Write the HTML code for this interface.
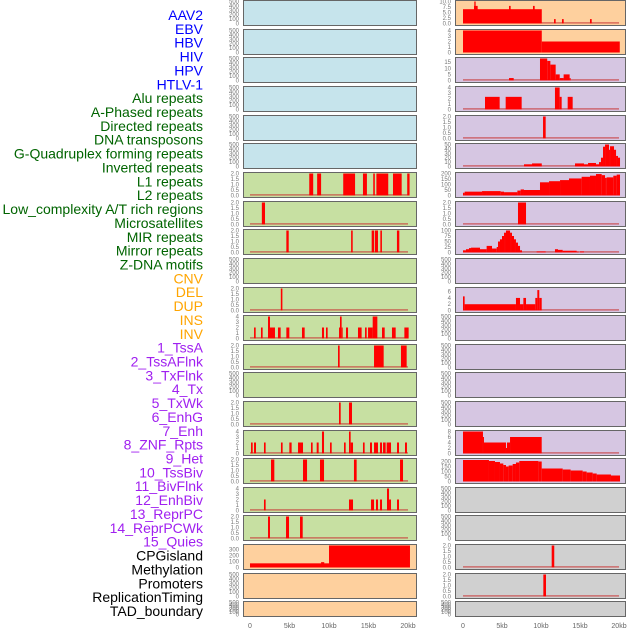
<!DOCTYPE html>
<html><head><meta charset="utf-8">
<style>
html,body{margin:0;padding:0;background:#fff;width:630px;height:630px;overflow:hidden}
svg{display:block;font-family:"Liberation Sans",sans-serif}
</style></head>
<body>
<svg id="chart" width="630" height="630" viewBox="0 0 630 630" xmlns="http://www.w3.org/2000/svg">
<g id="labels"></g>
<g id="panels"></g>
<g id="xaxes"></g>
</svg>
<script>
// ---------- data ----------
const trackLabels = ["AAV2","EBV","HBV","HIV","HPV","HTLV-1","Alu repeats","A-Phased repeats","Directed repeats","DNA transposons","G-Quadruplex forming repeats","Inverted repeats","L1 repeats","L2 repeats","Low_complexity A/T rich regions","Microsatellites","MIR repeats","Mirror repeats","Z-DNA motifs","CNV","DEL","DUP","INS","INV","1_TssA","2_TssAFlnk","3_TxFlnk","4_Tx","5_TxWk","6_EnhG","7_Enh","8_ZNF_Rpts","9_Het","10_TssBiv","11_BivFlnk","12_EnhBiv","13_ReprPC","14_ReprPCWk","15_Quies","CPGisland","Methylation","Promoters","ReplicationTiming","TAD_boundary"];
const labelGroups = [6,13,5,15,5];
const xTickLabels = ["0","5kb","10kb","15kb","20kb"];
const xTickValues = [0,5,10,15,20];

const E=[], T500=[0,100,200,300,400,500], T2=[0,0.5,1,1.5,2], T4=[0,1,2,3,4];
const leftYMax = [500,500,500,500,500,500,2,2,2,500,2,4,2,500,2,4,2,4,2,370,500,500];
const leftTicks = [T500,T500,T500,T500,T500,T500,T2,T2,T2,T500,T2,T4,T2,T500,T2,T4,T2,T4,T2,[0,100,200,300],T500,T500];
const leftSeries = [
 E,E,E,E,E,E,
 [[7.5,8.0,2],[8.5,9.0,2],[11.8,13.3,2],[14.3,14.8,2],[15.6,15.8,2],[16.0,17.5,2],[18.1,19.2,2],[19.9,20.2,2]],
 [[1.5,1.9,2]],
 [[4.6,4.9,2],[12.8,13.0,2],[15.4,15.7,2],[15.8,16.2,2],[16.5,16.7,2],[18.6,18.9,2]],
 E,
 [[3.9,4.1,2]],
 [[0.51,0.72,2],[1.39,1.6,2],[2.28,2.53,4],[2.53,3.16,2],[3.54,3.88,2],[4.6,4.98,2],[6.58,6.92,2],[9.11,9.37,2],[9.62,9.83,2],[11.27,11.39,2],[11.39,11.6,4],[11.6,11.73,2],[12.15,12.41,2],[13.67,14.13,2],[14.56,14.77,2],[14.94,15.53,2],[15.53,16.12,4],[16.71,17.05,2],[17.97,18.44,2],[19.54,20.08,2]],
 [[11.14,11.35,2],[15.7,16.92,2],[19.11,19.83,2]],
 E,
 [[11.27,11.48,2],[12.53,12.91,2]],
 [[0.13,0.34,2],[0.51,0.76,2],[1.77,1.98,2],[3.92,4.13,2],[4.98,5.27,2],[6.08,6.33,2],[6.33,6.71,2],[7.72,7.93,2],[8.44,8.69,2],[9.11,9.37,4],[10.13,10.34,2],[11.9,12.11,2],[12.53,12.74,4],[12.74,13.04,2],[14.3,14.51,2],[15.19,15.44,2],[15.7,16.2,2],[16.46,16.71,2],[16.84,17.17,2],[17.3,17.85,2],[18.61,18.86,2],[19.62,19.87,2]],
 [[2.66,3.08,2],[6.71,7.22,2],[8.86,9.37,2],[13.16,13.5,2],[18.99,19.37,2]],
 [[1.77,1.98,2],[12.53,13.04,2],[15.32,15.7,2],[15.95,16.2,2],[16.46,16.71,2],[17.34,17.6,4],[17.6,17.85,2],[18.61,18.86,2]],
 [[2.28,2.53,2],[4.56,4.94,2],[6.33,6.67,2]],
 [[0,10,70],[9.0,9.4,90],[10,20.25,370]],
 E,E
];
const leftBaseline = [0,0,0,0,0,0,1,1,1,0,1,1,1,0,1,1,1,1,1,0,0,0];

const rightYMax = [10,4,18,4,2,50,200,2,100,500,7,500,500,500,500,8,220,500,500,2,2,500];
const rightTicks = [[0,2.5,5,7.5,10],T4,[0,5,10,15],T4,T2,[0,10,20,30,40,50],[0,50,100,150,200],T2,[0,25,50,75,100],T500,[0,2,4,6],T500,T500,T500,T500,[0,2,4,6,8],[0,50,100,150,200],T500,T500,T2,T2,T500];
const rightSeries = [
 [[0,10.1,6.5],[1.41,1.88,8],[1.45,1.62,10],[5.9,6.11,8],[8.97,9.19,8],[11.67,11.88,2],[12.69,12.91,2],[16.28,16.5,2]],
 [[0,10.1,4],[10.1,20.1,2]],
 [[5.9,6.5,2],[9.87,10.8,18],[10.8,11.2,16],[11.2,11.88,13],[11.88,12.4,5],[12.4,12.9,2],[12.9,13.67,5],[13.67,13.8,2]],
 [[2.82,4.7,2.3],[5.47,7.52,2.3],[11.79,12.39,4],[12.39,12.65,2.3],[13.42,14.06,2.3]],
 [[10.26,10.6,2]],
 [[7.82,8.85,5],[8.85,10.1,7],[14.36,15.51,7],[15.51,16.03,5],[16.03,17.05,8],[17.05,17.44,5],[17.44,17.69,10],[17.69,17.95,20],[17.95,18.21,45],[18.21,18.72,50],[18.72,18.85,38],[18.85,19.36,46],[19.36,19.62,38],[19.62,19.87,24],[19.87,20.13,20]],
 [[0,0.21,25],[0.21,2.44,35],[2.44,2.95,40],[2.95,4.83,40],[4.83,5.26,35],[5.26,6.97,30],[6.97,7.39,45],[7.39,7.82,55],[7.82,9.87,50],[9.87,11.03,120],[11.03,12.44,130],[12.44,13.59,140],[13.59,15.21,155],[15.21,16.28,170],[16.28,17.05,180],[17.05,17.78,195],[17.78,18.21,185],[18.21,18.42,160],[18.42,19.27,165],[19.27,19.7,180],[19.7,20.13,190]],
 [[7.05,8.08,2]],
 [[0,0.38,10],[0.38,0.77,15],[0.77,1.03,20],[1.03,2.18,22],[2.18,3.03,15],[3.03,3.72,30],[3.72,4.32,18],[4.32,4.49,25],[4.49,4.74,50],[4.74,5.0,60],[5.0,5.26,75],[5.26,5.51,90],[5.51,6.03,100],[6.03,6.28,90],[6.28,6.54,75],[6.54,6.79,60],[6.79,7.05,45],[7.05,7.31,30],[7.31,7.56,10],[9.44,10.6,5],[11.79,12.18,15],[12.18,12.78,12],[12.78,14.57,8],[14.57,14.83,4],[15.0,15.51,5]],
 E,
 [[0,0.21,4.5],[0.21,6.79,2],[6.79,7.31,4],[7.31,7.74,2],[7.74,8.08,4],[8.08,9.27,2],[9.27,9.53,4],[9.53,9.78,6.5],[9.78,10.09,4]],
 E,E,E,E,
 [[0,2.56,8],[2.56,2.69,6],[2.69,5.51,4],[5.51,5.64,2],[5.64,6.03,4],[6.03,10.09,6]],
 [[0,3.33,215],[3.33,4.1,205],[4.1,4.74,195],[4.74,5.17,180],[5.17,5.51,165],[5.51,5.85,150],[5.85,6.37,160],[6.37,6.79,175],[6.79,7.22,190],[7.22,9.66,205],[9.66,10.09,200],[10.09,12.78,130],[12.78,13.8,120],[13.8,15.34,110],[15.34,15.85,100],[15.85,16.62,90],[16.62,17.14,80],[17.14,18.97,70],[18.97,20.13,60]],
 E,E,
 [[11.37,11.7,2]],
 [[10.3,10.64,2]],
 E
];
const rightBaseline = [1,0,1,1,1,1,1,1,1,0,1,0,0,0,0,1,0,0,0,1,1,0];

// ---------- layout ----------
const NS="http://www.w3.org/2000/svg";
function mk(tag,attrs,parent){const e=document.createElementNS(NS,tag);for(const k in attrs)e.setAttribute(k,attrs[k]);parent.appendChild(e);return e;}
const panelTops=[0,29,57,86,115,143,172,201,229,258,287,315,344,372,401,430,458,487,515,544,573,601];
const labelColors=["#0000ff","#006400","#ffa500","#a020f0","#000000"];
const leftFill=i=>i<6?"#c6e4ec":(i<19?"#c7e0a2":"#fed09e");
const rightFill=i=>i<2?"#fed09e":(i<17?"#d6c6e2":"#d0d0d0");
const cols=[{x0:243,x1:416,k0:250,k1:408,fill:leftFill,series:leftSeries,ymax:leftYMax,ticks:leftTicks,base:leftBaseline,name:"left"},
            {x0:455,x1:625,k0:463,k1:619,fill:rightFill,series:rightSeries,ymax:rightYMax,ticks:rightTicks,base:rightBaseline,name:"right"}];

// labels
const lg=document.getElementById('labels');
let idx=0;
labelGroups.forEach((c,g)=>{for(let j=0;j<c;j++){
  const i=idx++;
  const t=mk('text',{x:203,y:(20+i*13.86).toFixed(1),'text-anchor':'end','font-size':'14',fill:labelColors[g]},lg);
  
  
  t.textContent=trackLabels[i];
}});

// panels
const pg=document.getElementById('panels');
cols.forEach(c=>{
  panelTops.forEach((top,i)=>{
    const h = i===21?15:25;
    const bottom=top+h;
    const g=mk('g',{},pg);
    
    
    const r=mk('rect',{x:c.x0+0.5,y:top+0.5,width:c.x1-c.x0,height:h,fill:c.fill(i),stroke:'#666',"stroke-width":1},g);
    
    
    const ymax=c.ymax[i];
    const yz=bottom-1.5, yt=top+1.5;
    const ys=v=>yz-(v/ymax)*(yz-yt);
    const xs=k=>c.k0+(k/20)*(c.k1-c.k0);
    c.ticks[i].forEach(tv=>{
      const tt=mk('text',{x:c.x0-4,y:(ys(tv)+2).toFixed(1),'text-anchor':'end','font-size':'6',fill:'#777'},g);
      
      
      tt.textContent=(ymax<=2||ymax===10)?tv.toFixed(1):String(tv);
    });
    if(c.base[i]){
      const bl=mk('rect',{x:xs(0),y:yz-1.2,width:xs(20)-xs(0),height:1.2,fill:'#c83232',opacity:0.8},g);
      
      
    }
    c.series[i].forEach(s=>{
      const x0=Math.max(xs(s[0]),c.x0+1), x1=Math.min(xs(s[1]),c.x1);
      const b=mk('rect',{x:x0.toFixed(2),y:ys(s[2]).toFixed(2),width:Math.max(1,x1-x0).toFixed(2),height:(yz-ys(s[2])).toFixed(2),fill:'#ff0000'},g);
      
      
    });
  });
});

// x axes
const xg=document.getElementById('xaxes');
cols.forEach(c=>{
  xTickValues.forEach((v,j)=>{
    const t=mk('text',{x:(c.k0+(v/20)*(c.k1-c.k0)).toFixed(1),y:628,'text-anchor':'middle','font-size':'7',fill:'#666'},xg);
    
    
    t.textContent=xTickLabels[j];
  });
});
</script>
</body></html>
